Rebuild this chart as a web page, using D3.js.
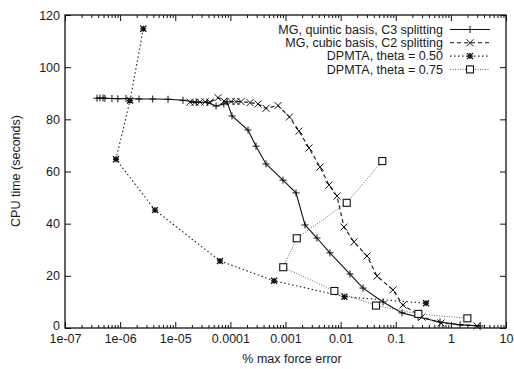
<!DOCTYPE html>
<html>
<head>
<meta charset="utf-8">
<script src="https://cdn.jsdelivr.net/npm/d3@7"></script>
<style>
html,body{margin:0;padding:0;background:#fff;}
svg{display:block;}
text{font-family:"Liberation Sans",Arial,Helvetica,sans-serif;fill:#1a1a1a;}
</style>
</head>
<body>
<svg id="chart" width="514" height="369"></svg>
<script>
// ---- data ----
const seriesNames = ["MG, quintic basis, C3 splitting","MG, cubic basis, C2 splitting","DPMTA, theta = 0.50","DPMTA, theta = 0.75"];

const quinticX = [3.8e-7,4.3e-7,4.9e-7,5.3e-7,7.1e-7,9.1e-7,1.28e-6,2.2e-6,3.9e-6,7.4e-6,1.38e-5,2.4e-5,3.8e-5,5.5e-5,7.6e-5,8.7e-5,1.07e-4,2.09e-4,2.92e-4,4.43e-4,9.0e-4,1.55e-3,2.26e-3,3.72e-3,6.4e-3,0.0148,0.0255,0.0588,0.130,0.254,0.635,1.47,3.4];
const quinticY = [88.1,88.2,88.2,88.1,88.0,87.9,88.0,87.8,87.8,87.7,87.3,86.6,86.5,85.1,85.9,86.7,81.3,75.9,69.7,62.9,56.7,51.8,39.5,34.5,28.8,20.7,15.3,10.0,5.8,4.2,2.3,1.2,0.8];

const cubicX = [1.85e-5,2.28e-5,2.81e-5,3.47e-5,4.27e-5,5.97e-5,7.66e-5,1.03e-4,1.26e-4,1.56e-4,2.27e-4,3.17e-4,4.43e-4,7.31e-4,1.18e-3,1.76e-3,2.67e-3,4.23e-3,6.15e-3,8.59e-3,0.0115,0.0175,0.0301,0.0457,0.0891,0.135,0.299,0.662,2.98];
const cubicY = [86.6,86.5,86.6,86.7,86.6,88.3,87.0,86.8,86.8,86.8,86.4,85.9,84.2,85.3,80.9,75.5,69.0,61.7,54.8,50.6,38.7,33.0,27.6,19.9,14.6,8.8,4.2,1.9,0.8];

const theta50X = [2.63e-6,1.51e-6,8.4e-7,4.29e-6,6.48e-5,6.19e-4,0.0117,0.354];
const theta50Y = [114.7,87.2,64.7,45.2,25.7,18.1,12.0,9.5];

const theta75X = [0.057,0.0129,1.60e-3,9.1e-4,7.7e-3,0.0438,0.257,1.99];
const theta75Y = [64.0,48.0,34.4,23.3,14.2,8.6,5.4,3.7];

const xTickValues = [1e-7,1e-6,1e-5,1e-4,1e-3,1e-2,1e-1,1,10];
const xTickLabels = ["1e-07","1e-06","1e-05","0.0001","0.001","0.01","0.1","1","10"];
const yTickValues = [0,20,40,60,80,100,120];
const xTitle = "% max force error";
const yTitle = "CPU time (seconds)";

// ---- layout ----
const L = 65, R = 506, T = 15, B = 328;
const FS = 12.5;
const svg = d3.select("#chart");
const x = d3.scaleLog().domain([1e-7, 10]).range([L, R]);
const y = d3.scaleLinear().domain([0, 120]).range([B, T]);

const minors = [];
for (let e = -7; e < 1; e++) for (let m = 2; m <= 9; m++) minors.push(m * Math.pow(10, e));

function styleAxis(g){
  g.select(".domain").remove();
  g.selectAll(".tick line").attr("stroke","#111").attr("stroke-width",1);
  g.selectAll("text").attr("font-size",FS).attr("fill","#1a1a1a")
    .attr("font-family","'Liberation Sans',Arial,sans-serif");
}

// bottom
svg.append("g").attr("transform",`translate(0,${B})`)
  .call(d3.axisBottom(x).tickValues(xTickValues).tickSize(-6).tickPadding(6)
    .tickFormat((d,i)=>xTickLabels[i])).call(styleAxis);
svg.append("g").attr("transform",`translate(0,${B})`)
  .call(d3.axisBottom(x).tickValues(minors).tickSize(-3).tickFormat("")).call(styleAxis);
// top
svg.append("g").attr("transform",`translate(0,${T})`)
  .call(d3.axisTop(x).tickValues(xTickValues).tickSize(-6).tickFormat("")).call(styleAxis);
svg.append("g").attr("transform",`translate(0,${T})`)
  .call(d3.axisTop(x).tickValues(minors).tickSize(-3).tickFormat("")).call(styleAxis);
// left
svg.append("g").attr("transform",`translate(${L},0)`)
  .call(d3.axisLeft(y).tickValues(yTickValues).tickSize(-6).tickPadding(5)).call(styleAxis);
// right
svg.append("g").attr("transform",`translate(${R},0)`)
  .call(d3.axisRight(y).tickValues(yTickValues).tickSize(-6).tickFormat("")).call(styleAxis);

// nudge the "0" label up slightly so it clears the x labels
svg.selectAll("text").filter(function(){ return this.textContent==="0"; }).attr("dy","0.1em");

// frame
svg.append("rect").attr("x",L).attr("y",T).attr("width",R-L).attr("height",B-T)
  .attr("fill","none").attr("stroke","#111").attr("stroke-width",1.3);

// titles
svg.append("text").attr("x",292).attr("y",363).attr("text-anchor","middle")
  .attr("font-size",FS).text(xTitle);
svg.append("text").attr("transform","translate(20,171) rotate(-90)").attr("text-anchor","middle")
  .attr("font-size",FS).text(yTitle);

// markers
function marker(g, type, cx, cy){
  const s = 3.5;
  if (type==="plus"){
    g.append("path").attr("d",`M${cx-s},${cy}H${cx+s}M${cx},${cy-s}V${cy+s}`);
  } else if (type==="cross"){
    g.append("path").attr("d",`M${cx-s},${cy-s}L${cx+s},${cy+s}M${cx-s},${cy+s}L${cx+s},${cy-s}`);
  } else if (type==="star"){
    const t=3;
    g.append("path").attr("d",`M${cx-t},${cy}H${cx+t}M${cx},${cy-t}V${cy+t}M${cx-t},${cy-t}L${cx+t},${cy+t}M${cx-t},${cy+t}L${cx+t},${cy-t}`)
      .attr("stroke-width",1.3);
  } else if (type==="square"){
    g.append("rect").attr("x",cx-3.5).attr("y",cy-3.5).attr("width",7).attr("height",7)
      .attr("fill","#fff").attr("stroke-width",1.1);
  }
}

const series = [
  {name:seriesNames[0], xs:quinticX, ys:quinticY, type:"plus", dash:null, color:"#111", w:1.1},
  {name:seriesNames[1], xs:cubicX, ys:cubicY, type:"cross", dash:"4,3", color:"#111", w:1.1},
  {name:seriesNames[2], xs:theta50X, ys:theta50Y, type:"star", dash:"1.5,2.5", color:"#222", w:1.1},
  {name:seriesNames[3], xs:theta75X, ys:theta75Y, type:"square", dash:"1,1.5", color:"#555", w:0.9}
];

const line = d3.line().x(d=>x(d[0])).y(d=>y(d[1]));
series.forEach(s=>{
  const pts = s.xs.map((v,i)=>[v, s.ys[i]]);
  svg.append("path").datum(pts).attr("d",line).attr("fill","none")
    .attr("stroke",s.color).attr("stroke-width",s.w)
    .attr("stroke-dasharray",s.dash);
  const g = svg.append("g").attr("stroke","#111").attr("fill","none").attr("stroke-width",1);
  pts.forEach(p=>marker(g, s.type, x(p[0]), y(p[1])));
});

// legend
const legRows = [29.5, 42.8, 56.1, 69.4];
series.forEach((s,i)=>{
  const yy = legRows[i];
  svg.append("text").attr("x",443).attr("y",yy).attr("dy","0.35em").attr("text-anchor","end")
    .attr("font-size",FS).text(s.name);
  svg.append("line").attr("x1",450).attr("x2",490).attr("y1",yy).attr("y2",yy)
    .attr("stroke",s.color).attr("stroke-width",s.w).attr("stroke-dasharray",s.dash);
  const g = svg.append("g").attr("stroke","#111").attr("fill","none").attr("stroke-width",1);
  marker(g, s.type, 470, yy);
});
</script>
</body>
</html>
